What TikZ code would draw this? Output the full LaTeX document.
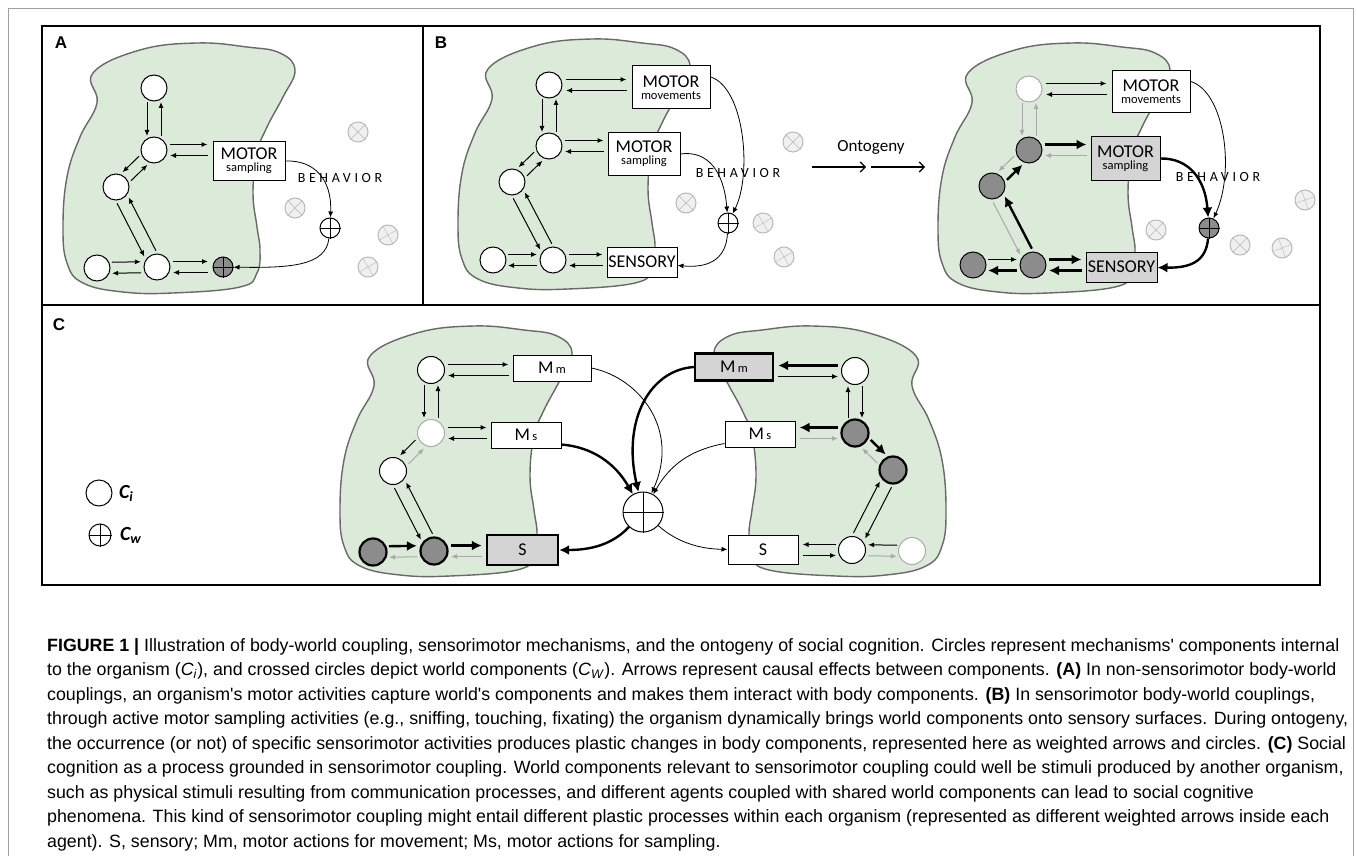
\documentclass[tikz,border=0pt]{standalone}
\usepackage{fontspec}
\setmainfont{Carlito}
\newfontfamily\capfont{Liberation Sans}
\newfontfamily\spaced{Carlito}[LetterSpace=26]
\usepackage{tikz}
\usetikzlibrary{positioning, calc, arrows.meta}

\definecolor{blobfill}{RGB}{220,234,218}
\definecolor{blobline}{RGB}{105,105,105}
\definecolor{darkc}{RGB}{140,140,140}
\definecolor{boxgrey}{RGB}{212,212,212}
\definecolor{arrgrey}{RGB}{170,170,170}
\definecolor{wline}{RGB}{185,185,185}
\definecolor{wfill}{RGB}{240,240,240}
\definecolor{frameg}{RGB}{160,160,160}

\tikzstyle{blob} = [fill=blobfill, draw=blobline, line width=1.4pt]
\tikzstyle{ci} = [circle, draw, fill=white, line width=1pt, minimum size=26pt, inner sep=0pt]
\tikzstyle{cdark} = [ci, fill=darkc]
\tikzstyle{cheavy} = [ci, fill=darkc, line width=2.2pt]
\tikzstyle{cpale} = [ci, draw=arrgrey]
\tikzstyle{comp} = [draw, fill=white, line width=1pt, inner sep=0pt, align=center]
\tikzstyle{wc} = [circle, draw, fill=white, line width=1pt, minimum size=20pt, inner sep=0pt]
\tikzstyle{wg} = [circle, draw=wline, fill=wfill, line width=1pt, minimum size=20pt, inner sep=0pt]
\tikzstyle{arr} = [line width=1pt, -{Latex[length=6pt,width=5pt]}]
\tikzstyle{arrg} = [arr, draw=arrgrey, fill=arrgrey]
\tikzstyle{arrk} = [line width=2.4pt, -{Latex[length=10pt,width=10pt]}]
\tikzstyle{link} = [line width=0.8pt, -{Latex[length=6pt,width=5pt]}]
\tikzstyle{linkk} = [line width=2.4pt, -{Latex[length=10pt,width=10pt]}]
\tikzstyle{ont} = [line width=1.2pt, -{Straight Barb[length=5pt,width=10pt]}]
\tikzstyle{behav} = [font=\spaced\fontsize{14}{14}\selectfont]

\newcommand\mtr{\fontsize{18}{19}\selectfont}
\newcommand\sml{\fontsize{12.5}{13}\selectfont}
\newcommand\blobpath{plot[smooth cycle, tension=0.7] coordinates {(93,73) (140,50) (197,43)
  (247,47) (280,53) (295,70) (283,97) (267,127) (257,153) (253,193) (257,227) (260,250)
  (257,273) (240,287) (173,293) (123,292) (83,283) (67,263) (63,227) (67,177) (80,137) (97,103)}}
\newcommand\pairarrows[7]{%
  \draw[#6, shorten <=#4, shorten >=#5] ($(#1)!#3!90:(#2)$) -- ($(#2)!#3!-90:(#1)$);
  \draw[#7, shorten <=#5, shorten >=#4] ($(#2)!#3!90:(#1)$) -- ($(#1)!#3!-90:(#2)$);}
\newcommand\xcross[3]{%
  \pgfmathtruncatemacro\crsA{#2+90}\pgfmathtruncatemacro\crsB{#2+180}\pgfmathtruncatemacro\crsC{#2+270}%
  \draw[#3] (#1.#2) -- (#1.\crsB) (#1.\crsA) -- (#1.\crsC);}

\begin{document}
\begin{tikzpicture}[x=1pt, y=-1pt]
    \useasboundingbox (0,0) rectangle (1357,856);
    \fill[white] (0,0) rectangle (1357,856);
    \draw[frameg, line width=0.8pt] (8,870) -- (8,8) -- (1353,8) -- (1353,870);

    % organisms
    \draw[blob] \blobpath;
    \begin{scope}[shift={(395,-4)}] \draw[blob] \blobpath; \end{scope}
    \begin{scope}[shift={(875,0)}] \draw[blob] \blobpath; \end{scope}
    \begin{scope}[shift={(277,283)}] \draw[blob] \blobpath; \end{scope}
    \begin{scope}[shift={(1009,283)}, xscale=-1] \draw[blob] \blobpath; \end{scope}

    \draw[line width=1.8pt] (42,26) rectangle (1320,585);
    \draw[line width=1.8pt] (423,26) -- (423,305);
    \draw[line width=1.8pt] (42,305) -- (1320,305);

    \node[font=\capfont\bfseries\fontsize{17}{17}\selectfont] (labA) at (61,43) {A};
    \node[font=\capfont\bfseries\fontsize{17}{17}\selectfont] (labB) at (441,43) {B};
    \node[font=\capfont\bfseries\fontsize{17}{17}\selectfont] (labC) at (59,325) {C};

    % panel A
    \node[ci] (a1) at (154,88) {};
    \node[ci] (a2) at (154,150) {};
    \node[ci] (a3) at (116,187) {};
    \node[ci] (a4) at (97,268) {};
    \node[ci] (a5) at (157,267) {};
    \node[comp, minimum width=72pt, minimum height=38pt] (amot) at (249,161) {{\mtr MOTOR}\\{\sml sampling}};
    \node[wc, fill=darkc] (aw) at (223,267) {};
    \xcross{aw}{0}{line width=1pt}
    \node[wc] (ao) at (330,228) {};
    \xcross{ao}{0}{line width=1pt}
    \node[behav] (abeh) at (340,178) {BEHAVIOR};
    \node[wg] (ag1) at (358,132) {};
    \node[wg] (ag2) at (295,208) {};
    \node[wg] (ag3) at (388,235) {};
    \node[wg] (ag4) at (368,267) {};
    \xcross{ag1}{45}{wline}
    \xcross{ag2}{45}{wline}
    \xcross{ag3}{30}{wline}
    \xcross{ag4}{30}{wline}

    \pairarrows{a1}{a2}{-7pt}{14pt}{14pt}{arr}{arr}
    \pairarrows{a2}{a2 -| amot.west}{5.5pt}{16pt}{5pt}{arr}{arr}
    \pairarrows{a2}{a3}{-6pt}{15pt}{15pt}{arr}{arr}
    \pairarrows{a3}{a5}{-6.5pt}{15pt}{15pt}{arr}{arr}
    \pairarrows{a4}{a5}{5.5pt}{15pt}{16pt}{arr}{arr}
    \pairarrows{a5}{aw}{5.5pt}{16pt}{15pt}{arr}{arr}
    \draw[link] (amot.east) .. controls (315,160) and (332,180) .. (ao);
    \draw[link] (ao) .. controls (326,266) and (290,268) .. (aw);

    % panel B, before
    \node[ci] (b1) at (549,85) {};
    \node[ci] (b2) at (549,146) {};
    \node[ci] (b3) at (512,182) {};
    \node[ci] (b4) at (493,260) {};
    \node[ci] (b5) at (553,260) {};
    \node[comp, minimum width=78pt, minimum height=43pt] (bmm) at (671,87.5) {{\mtr MOTOR}\\{\sml movements}};
    \node[comp, minimum width=72pt, minimum height=42pt] (bms) at (644,154) {{\mtr MOTOR}\\{\sml sampling}};
    \node[comp, minimum width=70pt, minimum height=30pt, font=\mtr] (bs) at (642,262) {SENSORY};
    \node[wc] (bo) at (728,223) {};
    \xcross{bo}{0}{line width=1pt}
    \node[behav] (bbeh) at (738,173) {BEHAVIOR};
    \node[wg] (bg1) at (793,142) {};
    \node[wg] (bg2) at (686,203) {};
    \node[wg] (bg3) at (763,223) {};
    \node[wg] (bg4) at (784,257) {};
    \xcross{bg1}{45}{wline}
    \xcross{bg2}{45}{wline}
    \xcross{bg3}{30}{wline}
    \xcross{bg4}{30}{wline}

    \pairarrows{b1}{b1 -| bmm.west}{5.5pt}{17pt}{5pt}{arr}{arr}
    \pairarrows{b1}{b2}{-7pt}{14pt}{14pt}{arr}{arr}
    \pairarrows{b2}{b2 -| bms.west}{5.5pt}{16pt}{4pt}{arr}{arr}
    \pairarrows{b2}{b3}{-6pt}{15pt}{15pt}{arr}{arr}
    \pairarrows{b3}{b5}{-6.5pt}{15pt}{15pt}{arr}{arr}
    \pairarrows{b4}{b5}{5.5pt}{15pt}{16pt}{arr}{arr}
    \pairarrows{b5}{b5 -| bs.west}{5.5pt}{16pt}{4pt}{arr}{arr}
    \draw[link] (bmm.15) .. controls (745,88) and (752,175) .. (bo);
    \draw[link] (bms.east) .. controls (708,150) and (724,172) .. (bo);
    \draw[link] (bo) .. controls (726,262) and (705,268) .. (bs);

    \node[font=\fontsize{17}{17}\selectfont] (onto) at (871,147) {Ontogeny};
    \coordinate (on1) at (812,167);
    \coordinate (on2) at (866,167);
    \coordinate (on3) at (871,167);
    \coordinate (on4) at (925,167);
    \draw[ont] (on1) -- (on2);
    \draw[ont] (on3) -- (on4);

    % panel B, after
    \node[cpale] (r1) at (1029,89) {};
    \node[cdark] (r2) at (1029,150) {};
    \node[cdark] (r3) at (992,186) {};
    \node[cdark] (r4) at (973,265) {};
    \node[cdark] (r5) at (1033,265) {};
    \node[comp, minimum width=78pt, minimum height=42pt] (rmm) at (1151,92) {{\mtr MOTOR}\\{\sml movements}};
    \node[comp, fill=boxgrey, minimum width=69pt, minimum height=43pt] (rms) at (1125.5,158.5) {{\mtr MOTOR}\\{\sml sampling}};
    \node[comp, fill=boxgrey, minimum width=71pt, minimum height=30pt, font=\mtr] (rs) at (1121.5,267) {SENSORY};
    \node[wc, fill=darkc] (ro) at (1209,228) {};
    \xcross{ro}{0}{line width=1pt}
    \node[wg] (rg1) at (1156,230) {};
    \node[wg] (rg2) at (1240,245) {};
    \node[wg] (rg3) at (1282,248) {};
    \node[wg] (rg4) at (1305,200) {};
    \xcross{rg1}{45}{wline}
    \xcross{rg2}{45}{wline}
    \xcross{rg3}{20}{wline}
    \xcross{rg4}{20}{wline}

    \pairarrows{r1}{r1 -| rmm.west}{5.5pt}{17pt}{5pt}{arr}{arr}
    \pairarrows{r1}{r2}{-7pt}{14pt}{14pt}{arrg}{arrg}
    \pairarrows{r2}{r2 -| rms.west}{5.5pt}{16pt}{4pt}{arrk}{arrg}
    \pairarrows{r2}{r3}{-6pt}{15pt}{15pt}{arrg}{arrk}
    \pairarrows{r3}{r5}{-6.5pt}{15pt}{15pt}{arrg}{arrk}
    \pairarrows{r4}{r5}{5.5pt}{15pt}{16pt}{arr}{arrk}
    \pairarrows{r5}{r5 -| rs.west}{5.5pt}{16pt}{4pt}{arrk}{arrk}
    \draw[link] (rmm.15) .. controls (1225,92) and (1235,172) .. (ro);
    \draw[linkk] (rms.east) .. controls (1188,158) and (1205,178) .. (ro);
    \draw[linkk] (ro) .. controls (1206,262) and (1190,268) .. (rs);
    \node[behav] (rbeh) at (1218,177) {BEHAVIOR};

    % panel C
    \node[ci, minimum size=27pt] (l1) at (431,370) {};
    \node[cpale, minimum size=27pt] (l2) at (431,433) {};
    \node[ci, minimum size=27pt] (l3) at (393,471) {};
    \node[cheavy, minimum size=27pt] (l4) at (373,552) {};
    \node[cheavy, minimum size=27pt] (l5) at (434,551) {};
    \node[comp, minimum width=78pt, minimum height=26pt] (lmm) at (552,368) {{\mtr M} {\sml m}};
    \node[comp, minimum width=70pt, minimum height=26pt] (lms) at (526,435) {{\mtr M} {\sml s}};
    \node[comp, fill=boxgrey, line width=2.4pt, minimum width=71pt, minimum height=30pt, font=\mtr] (ls) at (522.5,550) {S};

    \node[ci, minimum size=27pt] (q1) at (855,371) {};
    \node[cheavy, minimum size=27pt] (q2) at (855,433) {};
    \node[cheavy, minimum size=27pt] (q3) at (893,470) {};
    \node[ci, minimum size=27pt] (q4) at (852,550) {};
    \node[cpale, minimum size=27pt] (q5) at (912,551) {};
    \node[comp, fill=boxgrey, line width=2.4pt, minimum width=78pt, minimum height=27pt] (qmm) at (734,367) {{\mtr M} {\sml m}};
    \node[comp, minimum width=70pt, minimum height=26pt] (qms) at (760,434) {{\mtr M} {\sml s}};
    \node[comp, minimum width=70pt, minimum height=29pt, font=\mtr] (qs) at (763,550) {S};

    \node[wc, minimum size=40pt] (co) at (643,512) {};
    \xcross{co}{0}{line width=1pt}

    \pairarrows{l1}{l1 -| lmm.west}{5.5pt}{17pt}{4pt}{arr}{arr}
    \pairarrows{l1}{l2}{-7pt}{15pt}{15pt}{arr}{arr}
    \pairarrows{l2}{l2 -| lms.west}{5.5pt}{17pt}{4pt}{arr}{arr}
    \pairarrows{l2}{l3}{-6pt}{16pt}{16pt}{arr}{arrg}
    \pairarrows{l3}{l5}{-6.5pt}{16pt}{16pt}{arr}{arr}
    \pairarrows{l4}{l5}{5.5pt}{16pt}{17pt}{arrk}{arrg}
    \pairarrows{l5}{l5 -| ls.west}{5.5pt}{17pt}{4pt}{arrk}{arrg}
    \draw[link] (lmm.east) .. controls (640,378) and (680,430) .. (co);
    \draw[linkk] (lms.-15) .. controls (592,447) and (615,463) .. (co);
    \draw[linkk] (co) .. controls (612,545) and (590,550) .. (ls);

    \pairarrows{q1 -| qmm.east}{q1}{-5.5pt}{4pt}{17pt}{arr}{arrk}
    \pairarrows{q1}{q2}{7pt}{15pt}{15pt}{arr}{arr}
    \pairarrows{q2 -| qms.east}{q2}{-5.5pt}{4pt}{17pt}{arrg}{arrk}
    \pairarrows{q2}{q3}{6pt}{16pt}{16pt}{arrk}{arrg}
    \pairarrows{q3}{q4}{6.5pt}{16pt}{16pt}{arr}{arr}
    \pairarrows{q4 -| qs.east}{q4}{-5.5pt}{4pt}{16pt}{arr}{arr}
    \pairarrows{q4}{q5}{-5.5pt}{16pt}{15pt}{arrg}{arr}
    \draw[linkk] (qmm.west) .. controls (650,370) and (622,420) .. (co);
    \draw[link] (qms.-165) .. controls (690,450) and (670,465) .. (co);
    \draw[link] (co) .. controls (680,545) and (705,549) .. (qs);

    % legend
    \node[ci] (lgi) at (99,493) {};
    \node[right=3pt of lgi, font=\bfseries\itshape\fontsize{20}{20}\selectfont] (lgit) {C\textsubscript{i}};
    \node[wc, minimum size=22pt] (lgw) at (100,535) {};
    \xcross{lgw}{0}{line width=1pt}
    \node[right=5pt of lgw, font=\bfseries\itshape\fontsize{20}{20}\selectfont] (lgwt) {C\textsubscript{w}};

    % caption
    \node[anchor=north west, inner sep=0pt, align=left, font=\capfont\fontsize{17.8}{24.5}\selectfont] (cap) at (47,638) {%
\textbf{FIGURE 1 |} Illustration of body-world coupling, sensorimotor mechanisms, and the ontogeny of social cognition. Circles represent mechanisms' components internal\\
to the organism (\textit{C}\textsubscript{\textit{i}}), and crossed circles depict world components (\textit{C}\textsubscript{\textit{W}}). Arrows represent causal effects between components. \textbf{(A)} In non-sensorimotor body-world\\
couplings, an organism's motor activities capture world's components and makes them interact with body components. \textbf{(B)} In sensorimotor body-world couplings,\\
through active motor sampling activities (e.g., sniffing, touching, fixating) the organism dynamically brings world components onto sensory surfaces. During ontogeny,\\
the occurrence (or not) of specific sensorimotor activities produces plastic changes in body components, represented here as weighted arrows and circles. \textbf{(C)} Social\\
cognition as a process grounded in sensorimotor coupling. World components relevant to sensorimotor coupling could well be stimuli produced by another organism,\\
such as physical stimuli resulting from communication processes, and different agents coupled with shared world components can lead to social cognitive\\
phenomena. This kind of sensorimotor coupling might entail different plastic processes within each organism (represented as different weighted arrows inside each\\
agent). S, sensory; Mm, motor actions for movement; Ms, motor actions for sampling.};
\end{tikzpicture}
\end{document}
